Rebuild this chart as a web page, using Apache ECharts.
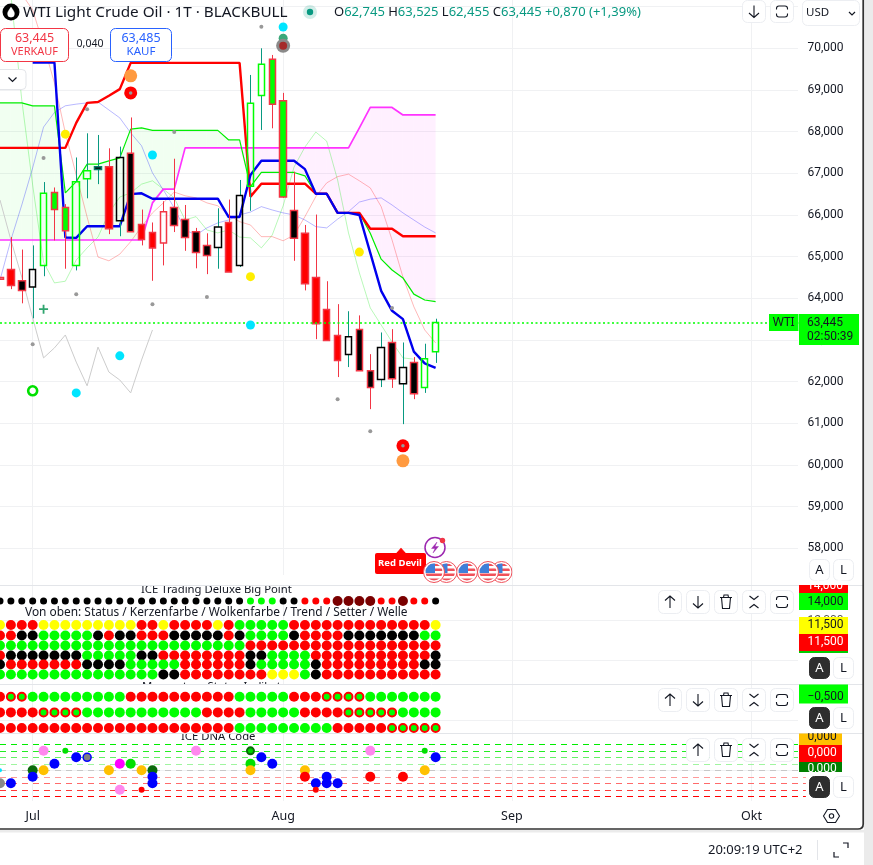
<!DOCTYPE html>
<html><head><meta charset="utf-8">
<style>html,body{margin:0;padding:0;background:#fff}#c{width:873px;height:865px}</style>
<script src="https://cdn.jsdelivr.net/npm/echarts@6/dist/echarts.min.js"></script>
</head><body><div id="c"></div>
<script>
const FONT='"Noto Sans",sans-serif';
const NUM='Roboto,sans-serif';
// ---- time axis
const xLabels=new Array(75).fill('');
xLabels[3]='Jul';xLabels[26]='Aug';xLabels[47]='Sep';xLabels[69]='Okt';
const priceTicks=[58,59,60,61,62,63,64,65,66,67,68,69,70,71];
const priceLabels=[58,59,60,61,62,63,64,65,66,67,68,69,70];
// ---- candles (first entry is the bar cut by the left edge)
const bodyTop=[64.50,64.69,64.42,64.69,66.52,66.54,66.18,66.80,67.06,67.16,67.16,67.38,67.48,65.77,65.58,66.08,66.18,65.89,65.60,65.27,65.71,65.82,66.47,68.68,69.62,69.74,68.74,66.11,65.56,64.50,63.73,63.11,63.08,63.25,62.26,62.82,62.94,62.34,62.46,62.55,63.42];
const bodyBottom=[64.46,64.31,64.19,64.27,64.79,66.13,65.62,64.79,66.87,67.09,65.67,65.86,65.60,65.41,65.21,65.33,65.75,65.46,65.10,65.03,65.22,64.63,64.79,66.69,68.87,68.66,66.43,65.44,64.35,63.39,62.99,62.51,62.65,62.26,61.86,62.05,62.07,61.95,61.71,61.86,62.72];
const wickHigh=[64.50,65.47,65.17,65.27,66.79,66.66,66.26,67.38,67.96,67.92,67.60,67.64,68.34,66.13,65.82,66.33,67.35,66.24,65.69,65.56,66.16,66.37,66.84,69.36,70.00,69.84,68.93,67.04,65.76,66.01,64.41,63.86,63.69,63.59,62.66,63.18,63.26,62.94,62.59,62.91,63.51];
const wickLow=[64.46,64.22,63.88,63.52,64.53,65.39,64.71,64.67,66.40,66.74,65.54,65.49,65.60,65.27,64.42,64.79,65.59,65.14,64.72,64.58,64.71,64.63,64.75,66.10,68.04,68.08,66.41,64.90,64.19,63.02,62.99,62.11,62.35,62.26,61.34,61.87,61.85,60.98,61.58,61.73,62.45];
const candleStyle=['wr','rr','kr','wk','wg','gr','gr','wg','wg','kt','rr','wk','kr','rr','rr','wr','kr','kr','kr','kr','wk','rr','wk','wg','wg','gr','gr','kr','rr','rr','rr','rr','wk','kr','kr','wk','kr','wk','kr','wg','wg'];
const lastPrice=63.42;
// ---- indicator lines
const redLine=[67.61,67.61,67.61,67.61,67.61,67.61,67.61,68.21,68.69,68.71,68.86,69.02,69.65,69.65,69.65,69.65,69.65,69.65,69.65,69.65,69.65,69.65,69.65,66.44,66.75,66.75,66.75,66.75,66.75,66.51,66.51,66.05,66.05,66.05,65.67,65.67,65.67,65.49,65.49,65.49,65.49];
const blueLine=[null,null,null,69.66,69.66,69.66,65.46,65.45,65.73,65.73,65.73,65.73,66.50,66.52,66.39,66.39,66.39,66.39,66.39,66.39,66.39,65.95,65.95,66.96,67.30,67.30,67.30,67.30,67.10,66.51,66.51,66.05,66.05,66.00,65.09,64.18,63.70,63.50,62.72,62.44,62.33];
const spanA=[68.69,68.69,68.69,68.62,68.62,68.62,66.53,66.80,67.22,67.22,67.30,67.37,68.06,68.09,68.03,68.03,68.03,68.03,68.03,68.03,68.03,67.80,67.80,66.68,67.02,67.02,67.02,67.02,66.94,66.51,66.51,66.05,66.05,66.05,65.56,64.94,64.68,64.49,64.10,63.96,63.92];
const spanB=[65.40,65.40,65.40,65.40,65.40,65.40,65.40,65.40,65.40,65.40,65.40,65.40,65.40,65.40,66.29,66.62,66.62,67.61,67.61,67.61,67.61,67.61,67.61,67.61,67.61,67.61,67.61,67.61,67.61,67.61,67.61,67.61,67.61,68.09,68.58,68.58,68.58,68.40,68.40,68.40,68.40];
const lagGreen=[null,71.28,68.76,66.72,64.87,64.37,64.41,64.92,65.21,65.47,66.05,66.43,66.53,66.74,66.82,66.62,66.41,65.88,65.96,65.64,65.57,65.64,65.47,65.45,65.21,65.52,66.22,67.15,67.63,67.99,67.77,66.84,65.57,64.61,63.77,63.36,62.95,62.57,62.54,null,null];
const lagRed=[null,null,71.30,70.92,70.08,69.17,67.97,66.96,65.95,64.99,64.90,65.06,65.36,65.72,66.05,66.29,66.55,66.46,66.41,66.29,66.22,66.00,65.84,65.76,65.48,65.48,65.38,65.52,65.96,66.44,66.77,66.92,66.98,66.82,66.65,66.20,65.40,64.51,63.80,63.24,62.93];
const lagBlue=[64.44,65.40,66.24,67.13,68.11,68.46,68.62,68.66,68.69,68.71,68.52,68.33,67.97,67.66,67.01,66.60,66.17,65.64,65.52,65.69,65.81,65.88,66.00,66.07,66.20,66.12,66.05,66.00,65.88,65.72,65.69,65.90,66.08,66.31,66.38,66.41,66.24,66.05,65.88,65.71,65.57];
const lagGray=[66.36,65.40,64.51,63.53,62.57,62.81,63.12,62.47,61.90,62.83,62.23,62.04,61.73,62.52,63.24];
// ---- marks on the price pane: [bar, price]
const grayDots=[[24,70.52],[8,68.54],[4,67.37],[16,67.99],[7,64.10],[19,64.03],[31,61.58],[34,60.81],[36,63.77],[3,62.90],[14,63.86]];
const yellowDots=[[6,67.94],[23,64.52],[33,65.11]];
const cyanDots=[[26,70.51],[14,67.44],[23,63.36],[11,62.62],[7,61.73]];
const tealDots=[[26,70.24]];
const haloDots=[[26,70.06]];
const orangeDots=[[12,69.34],[37,60.10]];
const redDots=[[12,68.93],[37,60.46]];
const ringDots=[[3,61.78]];
const crossDots=[[4,63.74]];
// ---- "ICE Trading Deluxe Big Point" pane
const bigPointRow=13.9;
const bigPoint='KKKKKKKKKKKKKKKKKKKKKKKGGGKKrrrDDDDrrDrrK';
const rowValues=[11.5,10.45,9.45,8.45,7.55,6.55];
const rowStatus='YRRRYYYYYYYYYRRYRRRRYRGGGGGRRRRRRRRRRRRRY';
const rowCandle='RRKKGGGGGKRKKRRRKKKKKRKGGGGKRRRRKKKKKKKGG';
const rowCloud='GGGGGGGGGGGGGGGGGGGGGGGRRRRRRRRRRRRRRRRRR';
const rowTrend='RKKKKKKKGGGGGKKRRRRRRRRKKGGGGRRRRRRRRRRRK';
const rowSetter='KRRRRRRRKKKKGGGGGRRRRRRKGGGGGKRRRRRRRRRKK';
const rowWave='GGGGGGGGGGGGGGGKKRRRRRRRRYYYGKRRRRRRRRRRR';
// ---- "Momentum Status" pane
const momentumRows=[-0.5,-1.5,-2.5];
const momentumA='RXXGGGGGGGGGRRRRRRRRRRGGGGGRRRXXXXGGGGGGG';
const momentumB='RRRRXXXXGGGGGGGGGGGRRRRGGGGGRRRRXXXXXGGGG';
const momentumC='RRRRRRRRRRRRRRRRRRRRRRGGGGGGGGGRRRRRXXXXX';
// ---- "ICE DNA Code" pane
const dnaLevels=[4,3,2,1,0,-1,-2,-3,-4];
const dnaLevelColors=['#00ee00','#22ee22','#66f066','#a0f5a0','#c8c8c8','#ff9a9a','#ff6a6a','#ff3838','#ff0000'];
const dnaDots=[[0,-2,'gray'],[0,0,'cyan'],[1,-2,'blue'],[3,0,'dark'],[3,-1,'blue'],[4,3,'pink'],[4,0,'amber'],[5,1,'blue'],[6,3,'tinyG'],[7,2,'blue'],[8,2,'grayB'],[10,0,'amber'],[11,1,'magenta'],[11,-3,'pink'],[12,1,'green'],[13,0,'amber'],[13,-3,'tinyR'],[14,0,'dark'],[14,-1,'blue'],[14,-2,'blue'],[18,3,'pink'],[23,3,'darkRing'],[23,1,'green'],[23,0,'amber'],[24,2,'blue'],[25,1,'blue'],[28,0,'amber'],[28,-1,'red'],[29,-2,'blue'],[29,-3,'tinyR'],[30,-1,'blue'],[30,-2,'blue'],[31,-2,'blue'],[34,3,'pink'],[34,-1,'red'],[37,-1,'red'],[39,3,'tinyG'],[39,0,'amber'],[40,2,'blue']];

// ---- styles
const RED='#ff0000',GRN='#00ff00',WICKR='#f23645',WICKT='#089981';
const fills={r:RED,k:'#000000',w:'transparent',g:GRN};
const borders={r:WICKR,k:'#000000',g:GRN,t:'#0a7a68'};
const rowPalette={Y:'#ffff00',R:RED,G:GRN,K:'#000000',r:RED,D:'#7a0000'};
const SPLIT='#f0f1f3';

function xAxisFor(i,labels){return {type:'category',gridIndex:i,data:xLabels,boundaryGap:false,
  axisLine:{show:false},axisTick:{show:false},
  axisLabel:{show:labels,interval:(k,v)=>v!=='',color:'#131722',fontFamily:FONT,fontSize:12.5,margin:9},
  splitLine:{show:true,interval:(k,v)=>v!=='',lineStyle:{color:SPLIT,width:1}}};}
function yAxisFor(i,min,max,ticks){return {type:'value',gridIndex:i,min,max,position:'left',
  axisLine:{show:false},axisLabel:{show:false},axisTick:{show:false,customValues:ticks},
  splitLine:{show:true,lineStyle:{color:SPLIT,width:1}}};}
const grids=[[0,585],[585,99],[684,49],[733,68]].map(g=>({left:-2.2,width:808.08,top:g[0],height:g[1]}));

function line(name,data,color,width,z){return {name,type:'line',xAxisIndex:0,yAxisIndex:0,
  data:data.map((v,i)=>[i,v]),showSymbol:false,symbol:'none',connectNulls:false,silent:true,z:z||2,
  lineStyle:{color,width}};}
function dots(name,data,size,style,symbol,z){return {name,type:'scatter',xAxisIndex:0,yAxisIndex:0,data,
  symbol:symbol||'circle',symbolSize:size,itemStyle:Object.assign({opacity:1},style),silent:true,z:z||5};}
function rowSeries(name,xi,yi,codes,val,sizeFn){
  const d=codes.split('').map((c,i)=>c==='X'
    ?{value:[i,val,c],itemStyle:{color:GRN,borderColor:RED,borderWidth:2,opacity:1}}
    :{value:[i,val,c],itemStyle:{color:rowPalette[c],opacity:1}});
  return {name,type:'scatter',xAxisIndex:xi,yAxisIndex:yi,silent:true,z:5,data:d,
    symbolSize:sizeFn||(v=>v[2]==='X'?8:10)};
}
const dnaStyle={gray:['#888888',10,null,0],cyan:['#00e5ff',4,null,0],blue:['#0000ff',10,null,0],dark:['#0a6b0a',10,null,0],
  pink:['#ff88ee',10,null,0],amber:['#ffc000',10,null,0],tinyG:['#00e000',6,null,0],tinyR:['#ff0000',6,null,0],
  grayB:['#808080',8,'#0000ff',1.5],magenta:['#ff00ff',10,null,0],green:['#00e000',10,null,0],
  darkRing:['#00d000',7,'#0a6b0a',2],red:['#ff0000',10,null,0]};

const series=[
 {name:'cloud',type:'custom',xAxisIndex:0,yAxisIndex:0,silent:true,z:1,clip:true,
  data:spanA.map((v,i)=>[i,v,spanB[i]]),encode:{x:0,y:[1,2]},
  renderItem(params,api){
    const i=params.dataIndex; if(i>=spanA.length-1) return null;
    const a0=spanA[i],a1=spanA[i+1],b0=spanB[i],b1=spanB[i+1];
    const G='rgba(0,255,0,0.055)',P='rgba(255,0,255,0.06)';
    const c=(x,y)=>api.coord([x,y]);
    const d0=a0-b0,d1=a1-b1;
    if(d0*d1>=0) return {type:'polygon',shape:{points:[c(i,a0),c(i+1,a1),c(i+1,b1),c(i,b0)]},style:{fill:d0+d1>=0?G:P}};
    const t=d0/(d0-d1),X=[i+t,a0+(a1-a0)*t];
    return {type:'group',children:[
      {type:'polygon',shape:{points:[c(i,a0),c(X[0],X[1]),c(i,b0)]},style:{fill:d0>0?G:P}},
      {type:'polygon',shape:{points:[c(X[0],X[1]),c(i+1,a1),c(i+1,b1)]},style:{fill:d1>0?G:P}}]};
  }},
 line('lagGray',lagGray,'#cccccc',1),
 line('lagGreen',lagGreen,'rgba(0,230,0,0.28)',1),
 line('lagRed',lagRed,'rgba(255,0,0,0.28)',1),
 line('lagBlue',lagBlue,'rgba(0,0,255,0.28)',1),
 line('spanB',spanB,'#ff33ff',1.7),
 line('spanA',spanA,'#00ee00',1.2),
 line('red',redLine,RED,2.4),
 line('blue',blueLine,'#0000ee',2.4),
 {name:'wicks',type:'custom',xAxisIndex:0,yAxisIndex:0,silent:true,z:3,
  data:bodyTop.map((v,i)=>[i,wickHigh[i],wickLow[i],v,bodyBottom[i]]),encode:{x:0,y:[1,2,3,4]},
  renderItem(params,api){
    const i=params.dataIndex,st=candleStyle[i];
    const col=(st==='wk'||st==='wg'||st==='kt')?WICKT:WICKR;
    const x=Math.round(api.coord([i,0])[0])+0.5,y=v=>api.coord([i,v])[1];
    return {type:'group',children:[
      {type:'line',shape:{x1:x,y1:y(wickHigh[i]),x2:x,y2:y(bodyTop[i])},style:{stroke:col,lineWidth:1}},
      {type:'line',shape:{x1:x,y1:y(bodyBottom[i]),x2:x,y2:y(wickLow[i])},style:{stroke:col,lineWidth:1}}]};
  }},
 {name:'WTI',type:'candlestick',xAxisIndex:0,yAxisIndex:0,silent:true,z:3,barWidth:7,
  data:bodyTop.map((t,i)=>{const st=candleStyle[i],f=fills[st[0]],b=borders[st[1]];
    return {value:[bodyBottom[i],t,bodyBottom[i],t],itemStyle:{color:f,color0:f,borderColor:b,borderColor0:b,borderWidth:1.5}};}),
  markLine:{silent:true,symbol:'none',animation:false,label:{show:false},
    data:[{yAxis:lastPrice,lineStyle:{color:GRN,type:[2,2.5],width:1.5}}]}},
 dots('gray dots',grayDots,4,{color:'#999999'}),
 dots('yellow',yellowDots,9,{color:'#ffee00'}),
 dots('cyan',cyanDots,9,{color:'#00e5ff'}),
 dots('teal',tealDots,9,{color:'#3aa87a'}),
 dots('halo',haloDots,14,{color:'#8a8a8a'}),
 dots('haloCore',haloDots,8,{color:'#a52a2a'}),
 dots('orange',orangeDots,13,{color:'#ff9a40'}),
 dots('red',redDots,13,{color:RED}),
 dots('redCore',redDots,3.5,{color:'#999999'},null,6),
 dots('ring',ringDots,9,{color:'#ffffff',borderColor:'#00e000',borderWidth:2.6}),
 dots('cross',crossDots,9,{color:'#2fa56e'},'path://M4,0h2v4h4v2h-4v4h-2v-4h-4v-2h4z'),
 // pane 1
 rowSeries('bigPoint',1,2,bigPoint,bigPointRow,v=>v[2]==='D'?10:7),
 ...[rowStatus,rowCandle,rowCloud,rowTrend,rowSetter,rowWave].map((r,i)=>rowSeries('row'+i,1,2,r,rowValues[i])),
 // pane 2
 rowSeries('momA',2,3,momentumA,momentumRows[0]),
 rowSeries('momB',2,3,momentumB,momentumRows[1]),
 rowSeries('momC',2,3,momentumC,momentumRows[2]),
 // pane 3
 {name:'dna',type:'scatter',xAxisIndex:3,yAxisIndex:4,silent:true,z:5,
  data:dnaDots.map(d=>({value:d,itemStyle:{color:dnaStyle[d[2]][0],borderColor:dnaStyle[d[2]][2]||'transparent',borderWidth:dnaStyle[d[2]][3],opacity:1}})),
  symbolSize:v=>dnaStyle[v[2]][1],
  markLine:{silent:true,symbol:'none',animation:false,label:{show:false},
    data:dnaLevels.map((l,i)=>({yAxis:l,lineStyle:{color:dnaLevelColors[i],type:[6,5],width:1.2}}))}}
];

// ---- furniture
const g=[];
const DARK='#131722';
function T(text,x,y,o){g.push({type:'text',x,y,z:(o&&o.z)||8,style:Object.assign({text,fill:DARK,font:`${(o&&o.size)||12.5}px ${FONT}`,align:'left',verticalAlign:'middle'},o&&o.fill?{fill:o.fill}:{},o&&o.align?{align:o.align}:{},o&&o.font?{font:o.font}:{})});}
const N=(text,x,y,o)=>T(text,x,y,Object.assign({font:`12px ${NUM}`},o||{}));
function R(x,y,w,h,fill,o){g.push({type:'rect',z:(o&&o.z)||7,shape:{x,y,width:w,height:h,r:(o&&o.r)||0},style:{fill,stroke:(o&&o.stroke)||null,lineWidth:(o&&o.lw)||1}});}
const shapeKeys={};let shapeN=0;
function P(d,x,y,o){
  if(!shapeKeys[d]){shapeKeys[d]='icon'+(shapeN++);echarts.graphic.registerShape(shapeKeys[d],echarts.graphic.extendPath(d,{}));}
  g.push({type:shapeKeys[d],x,y,z:(o&&o.z)||8,style:{fill:(o&&o.fill)||'none',stroke:(o&&o.stroke)||DARK,lineWidth:(o&&o.lw)||1.1}});
}
const ICON={up:'M0,-6L0,6M-5,-1.5L0,-6L5,-1.5',down:'M0,6L0,-6M-5,1.5L0,6L5,1.5',
 trash:'M-6,-4.5L6,-4.5M-2.5,-4.5L-2,-7L2,-7L2.5,-4.5M-4.5,-4.5L-3.5,6.5L3.5,6.5L4.5,-4.5',
 fold:'M-4.5,-6L0,-2.5L4.5,-6M-4.5,6L0,2.5L4.5,6',
 max:'M-5.5,-2L-5.5,-3Q-5.5,-5.5,-3,-5.5L3,-5.5Q5.5,-5.5,5.5,-3L5.5,-2M5.5,2L5.5,3Q5.5,5.5,3,5.5L-3,5.5Q-5.5,5.5,-5.5,3L-5.5,2'};
function btn(x,y,icon,w,h){w=w||24;h=h||24;R(x+.5,y+.5,w-1,h-1,'#ffffff',{stroke:'#eceef2',r:5,z:7});P(ICON[icon],x+w/2,y+h/2);}
function toggles(y,dark){
  R(809.5,y+.5,20,21,dark?'#2e2e2e':'#ffffff',{r:5,stroke:dark?'#2e2e2e':'#eceef2'});
  T('A',819.5,y+11.5,{align:'center',fill:dark?'#ffffff':DARK,size:13});
  R(833.5,y+.5,20,21,'#ffffff',{r:5,stroke:'#eceef2'});
  T('L',843.5,y+11.5,{align:'center',size:13});
}
// cover right of the panes
R(798,0,65,829,'#ffffff',{z:4});
// pane separators
[585,684,733].forEach(y=>g.push({type:'line',z:4,shape:{x1:0,y1:y+.5,x2:863,y2:y+.5},style:{stroke:'#e3e5e9',lineWidth:1}}));
// clipped pane titles
T('ICE Trading Deluxe Big Point',141,589.5,{z:1,size:11.3});
R(130,575,175,10,'#ffffff',{z:1});
T('Momentum Status Indikator',142,687,{z:1,size:11.3});
R(130,685,175,8,'#ffffff',{z:1});
T('ICE DNA Code',181,737,{z:1,size:11.3});
R(175,727,85,6,'#ffffff',{z:1});
T('Von oben: Status / Kerzenfarbe / Wolkenfarbe / Trend / Setter / Welle',25,612.5,{z:1,size:11.9});
// header
g.push({type:'circle',z:8,shape:{cx:11,cy:12,r:8.5},style:{fill:'#000'}});
P('M0,-5.5C2,-2.5,3.5,-1,3.5,1.2A3.5,3.5,0,0,1,-3.5,1.2C-3.5,-1,-2,-2.5,0,-5.5Z',11,12.5,{fill:'#fff',stroke:'#fff',lw:.3});
T('WTI Light Crude Oil · 1T · BLACKBULL',23,12.5,{size:15.3});
g.push({type:'circle',z:8,shape:{cx:310,cy:12,r:7},style:{fill:'rgba(8,153,129,0.18)'}});
g.push({type:'circle',z:8,shape:{cx:310,cy:12,r:3.2},style:{fill:'#089981'}});
g.push({type:'text',x:334,y:12.5,z:8,style:{text:'{k|O}{v|62,745} {k|H}{v|63,525} {k|L}{v|62,455} {k|C}{v|63,445} {v|+0,870 (+1,39%)}',verticalAlign:'middle',font:`13px ${FONT}`,rich:{k:{fill:DARK,font:`13px ${FONT}`},v:{fill:'#089981',font:`13px ${FONT}`}}}});
// buy / sell
R(.5,28.5,68,33,'#ffffff',{stroke:'#f23645',r:5,lw:1});
T('63,445',34.5,38.5,{align:'center',fill:'#f23645',size:12.5});
T('VERKAUF',34.5,52,{align:'center',fill:'#f23645',size:11});
T('0,040',90,44.5,{align:'center',size:10.5});
R(110.5,28.5,61,33,'#ffffff',{stroke:'#2962ff',r:5,lw:1});
T('63,485',141,38.5,{align:'center',fill:'#2962ff',size:12.5});
T('KAUF',141,52,{align:'center',fill:'#2962ff',size:11.5});
R(-6,69.5,32,20,'#ffffff',{stroke:'#e3e5e9',r:4});
P('M-4,-2L0,2L4,-2',12.5,79.5,{lw:1.2});
// top-right controls
btn(742,0,'down',24,23);btn(770,0,'max',24,23);
R(802.5,.5,57,25,'#ffffff',{stroke:'#eceef2',r:5});
T('USD',806,13,{size:11.5});
P('M-3,-1.5L0,1.5L3,-1.5',852,13.5,{lw:1.2});
// pane buttons
[590,688].forEach(y=>{[[658,'up'],[686,'down'],[714,'trash'],[742,'fold'],[770,'max']].forEach(b=>btn(b[0],y,b[1]));});
[[686,'up'],[714,'trash'],[742,'fold'],[770,'max']].forEach(b=>btn(b[0],738,b[1]));
toggles(559,false);toggles(657,true);toggles(707,true);toggles(776,true);
// price badges
R(769,314,29.5,17,GRN,{z:6});T('WTI',783.7,323,{align:'center',z:8,size:12});
R(799,314,60,31,GRN,{z:6});N('63,445',807,322.5,{z:8});N('02:50:39',807,336.5,{z:8});
R(799,585,49,8,RED,{z:7});N('14,000',807,585.5,{fill:'#ffffff',z:8});
R(799,580.5,49,4.5,'#ffffff',{z:9});
R(799,593,49,17,GRN,{z:9});N('14,000',807.5,601.5,{z:10});
N('12,000',807.5,621,{fill:'#555',z:8});
R(799,651,49,2,'#00cc00',{z:9});
R(799,617,49,17,'#ffff00',{z:9});N('11,500',807.5,625,{z:10});
R(799,634,49,17,RED,{z:9});N('11,500',807.5,642,{fill:'#ffffff',z:10});
R(799,684.5,49,19,GRN,{z:9});N('−0,500',807.5,697,{z:10});
R(799,733.5,43,12,'#ffc000',{z:7});N('0,000',807.5,737,{z:8});R(799,730,43,3,'#ffffff',{z:8.5});
R(799,745,43,17,RED,{z:9});N('0,000',807.5,753,{fill:'#ffffff',z:10});
R(799,762,43,10,'#008000',{z:9});N('0,000',807.5,769,{fill:'#ffffff',z:10});R(799,772,43,3.5,'#ffffff',{z:11});
// event flag
R(375,553,51,21,RED,{r:2,z:6});
P('M-4,0L0,-4.5L4,0Z',401,553,{fill:RED,stroke:RED,z:6});
T('Red Devil',400,563,{align:'center',fill:'#ffffff',font:`bold 9.5px ${FONT}`,z:8});
g.push({type:'circle',z:6,shape:{cx:435,cy:547.5,r:10},style:{fill:'#fff',stroke:'#9c27b0',lineWidth:1.5}});
P('M2,-5.5L-3.5,1L0,1L-2,5.5L3.5,-1L0,-1Z',435,547.5,{fill:'#9c27b0',stroke:'#9c27b0',lw:.4,z:6});
g.push({type:'circle',z:6,shape:{cx:442.5,cy:540.5,r:2.7},style:{fill:'#f23645'}});
const flagSvg='data:image/svg+xml,'+encodeURIComponent('<svg xmlns="http://www.w3.org/2000/svg" width="44" height="44" viewBox="0 0 44 44"><defs><clipPath id="c"><circle cx="22" cy="22" r="17"/></clipPath></defs><circle cx="22" cy="22" r="21" fill="#fff" stroke="#f0505a" stroke-width="2"/><g clip-path="url(#c)"><rect width="44" height="44" fill="#fff"/><rect y="5" width="44" height="5" fill="#f0505a"/><rect y="15" width="44" height="5" fill="#f0505a"/><rect y="25" width="44" height="5" fill="#f0505a"/><rect y="35" width="44" height="5" fill="#f0505a"/><rect x="3" y="4" width="21" height="20" fill="#3f7fd9"/></g></svg>');
[501.5,488,467,446.5,434].forEach(cx=>g.push({type:'image',z:6,x:cx-11,y:561,style:{image:flagSvg,width:22,height:22}}));
// settings hexagon
P('M-8,0L-4,-6.5L4,-6.5L8,0L4,6.5L-4,6.5Z',831.5,816,{lw:1.1});
g.push({type:'circle',z:8,shape:{cx:831.5,cy:816,r:2.2},style:{fill:'none',stroke:DARK,lineWidth:1.1}});
// frame + status bar
R(864,0,9,865,'#ebebeb',{z:6});
R(0,830,864,2.5,'#ebebeb',{z:6});
P('M-2,829L858,829Q863.2,829,863.2,824L863.2,-2',0,0,{stroke:'#333333',lw:1.7,z:7});
T('20:09:19 UTC+2',708,850,{size:13});
g.push({type:'line',z:8,shape:{x1:817.5,y1:840,x2:817.5,y2:860},style:{stroke:'#e3e5e9',lineWidth:1}});
P('M-7,2L-7,7L-2,7M2,-7L7,-7L7,-2',841,850,{lw:1.2});

const chart=echarts.init(document.getElementById('c'),null,{renderer:'canvas'});
chart.setOption({animation:false,backgroundColor:'#ffffff',tooltip:{show:false},
 grid:grids,
 xAxis:[xAxisFor(0,false),xAxisFor(1,false),xAxisFor(2,false),xAxisFor(3,true)],
 yAxis:[
  yAxisFor(0,57.12,71.159,priceTicks),
  {type:'value',gridIndex:0,min:57.12,max:71.159,position:'right',z:5,axisLine:{show:false},axisTick:{show:false},splitLine:{show:false},
   axisLabel:{show:true,customValues:priceLabels,margin:1.6,align:'left',color:DARK,fontFamily:NUM,fontSize:12,
     formatter:v=>v.toFixed(3).replace('.',',')}},
  yAxisFor(1,5.6,15.5,[12,8]),
  yAxisFor(2,-2.82,0.32,[-2]),
  yAxisFor(3,-4.72,5.74,[0])
 ],
 series,graphic:{elements:g}});
</script></body></html>
